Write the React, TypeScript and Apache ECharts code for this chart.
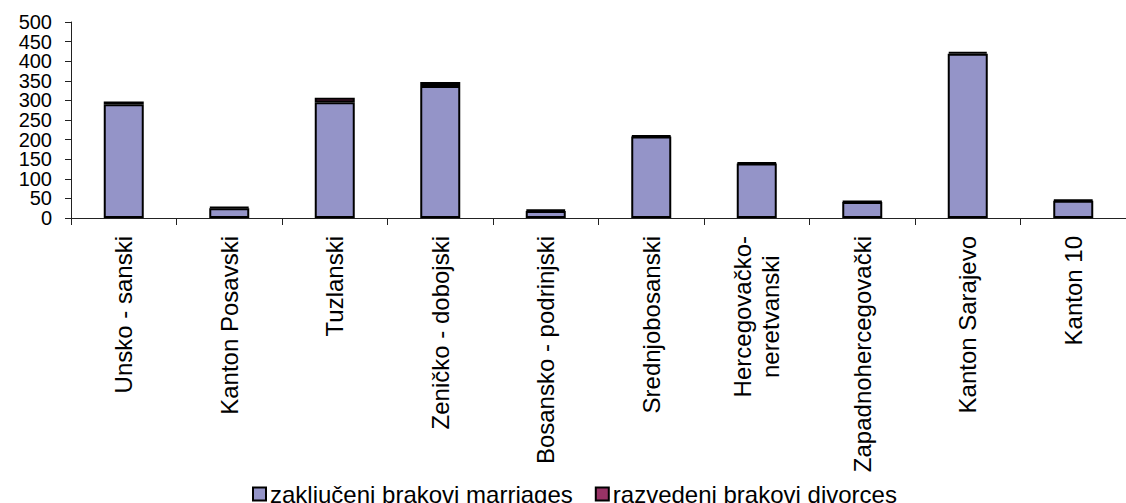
import React, { useEffect, useRef } from "react";
import * as echarts from "echarts";

const categories = [
  "Unsko - sanski",
  "Kanton Posavski",
  "Tuzlanski",
  "Zeničko - dobojski",
  "Bosansko - podrinjski",
  "Srednjobosanski",
  "Hercegovačko-\nneretvanski",
  "Zapadnohercegovački",
  "Kanton Sarajevo",
  "Kanton 10",
];
const marriages = [290, 25, 295, 337, 18, 208, 139, 41, 419, 44];
const divorces = [7, 3, 12, 10, 3, 3, 3, 2, 5, 3];
const seriesNames = ["zaključeni brakovi marriages", "razvedeni brakovi divorces"];
const yTicks = [0, 50, 100, 150, 200, 250, 300, 350, 400, 450, 500];

const FONT = "'Liberation Sans', Arial, sans-serif";

export default function App() {
  const ref = useRef<HTMLDivElement>(null);
  useEffect(() => {
    if (!ref.current) return;
    const chart = echarts.init(ref.current, null, { renderer: "svg" });
    chart.setOption({
      animation: false,
      backgroundColor: "#ffffff",
      textStyle: { fontFamily: FONT, color: "#000" },
      grid: { left: 71, top: 22, bottom: 285, right: -12, containLabel: false },
      legend: {
        top: 477,
        left: 247,
        itemWidth: 13,
        itemHeight: 13,
        itemGap: 22,
        icon: "rect",
        textStyle: { fontFamily: FONT, fontSize: 24, color: "#000", padding: [0, 0, 0, -1] },
        data: seriesNames,
      },
      xAxis: {
        type: "category",
        data: categories,
        axisLine: { show: true, lineStyle: { color: "#222", width: 1 } },
        axisTick: { show: true, length: 7, lineStyle: { color: "#222" } },
        axisLabel: {
          interval: 0,
          rotate: 90,
          margin: 18,
          fontFamily: FONT,
          fontSize: 24,
          color: "#000",
          lineHeight: 28,
          hideOverlap: false,
          formatter: (v: string) =>
            v.includes("\n")
              ? v
                  .split("\n")
                  .map((s) => `{c|${s}}`)
                  .join("\n")
              : v,
          rich: { c: { align: "center", fontFamily: FONT, fontSize: 24, lineHeight: 28, color: "#000" } },
        },
      },
      yAxis: {
        type: "value",
        min: yTicks[0],
        max: yTicks[yTicks.length - 1],
        interval: yTicks[1] - yTicks[0],
        splitLine: { show: false },
        axisLine: { show: true, lineStyle: { color: "#222", width: 1 } },
        axisTick: { show: true, length: 6, lineStyle: { color: "#222" } },
        axisLabel: { show: false },
      },
      series: [
        {
          name: seriesNames[0],
          type: "bar",
          stack: "total",
          barWidth: 40,
          data: marriages,
          itemStyle: { color: "#9494C8", borderColor: "#000", borderWidth: 2 },
        },
        {
          name: seriesNames[1],
          type: "bar",
          stack: "total",
          barWidth: 40,
          data: divorces,
          itemStyle: { color: "#993366", borderColor: "#000", borderWidth: 2 },
        },
      ],
    });
    const labels = yTicks.map((v) => {
      const py = chart.convertToPixel({ yAxisIndex: 0 }, v) as number;
      return {
        type: "text",
        x: 52,
        y: py,
        silent: true,
        style: {
          text: String(v),
          align: "right",
          verticalAlign: "middle",
          fontSize: 20,
          fontFamily: FONT,
          fill: "#000",
        },
      };
    });
    chart.setOption({ graphic: labels });
    return () => chart.dispose();
  }, []);
  return (
    <div
      ref={ref}
      style={{ position: "fixed", left: 0, top: 0, width: 1126, height: 503 }}
    />
  );
}
